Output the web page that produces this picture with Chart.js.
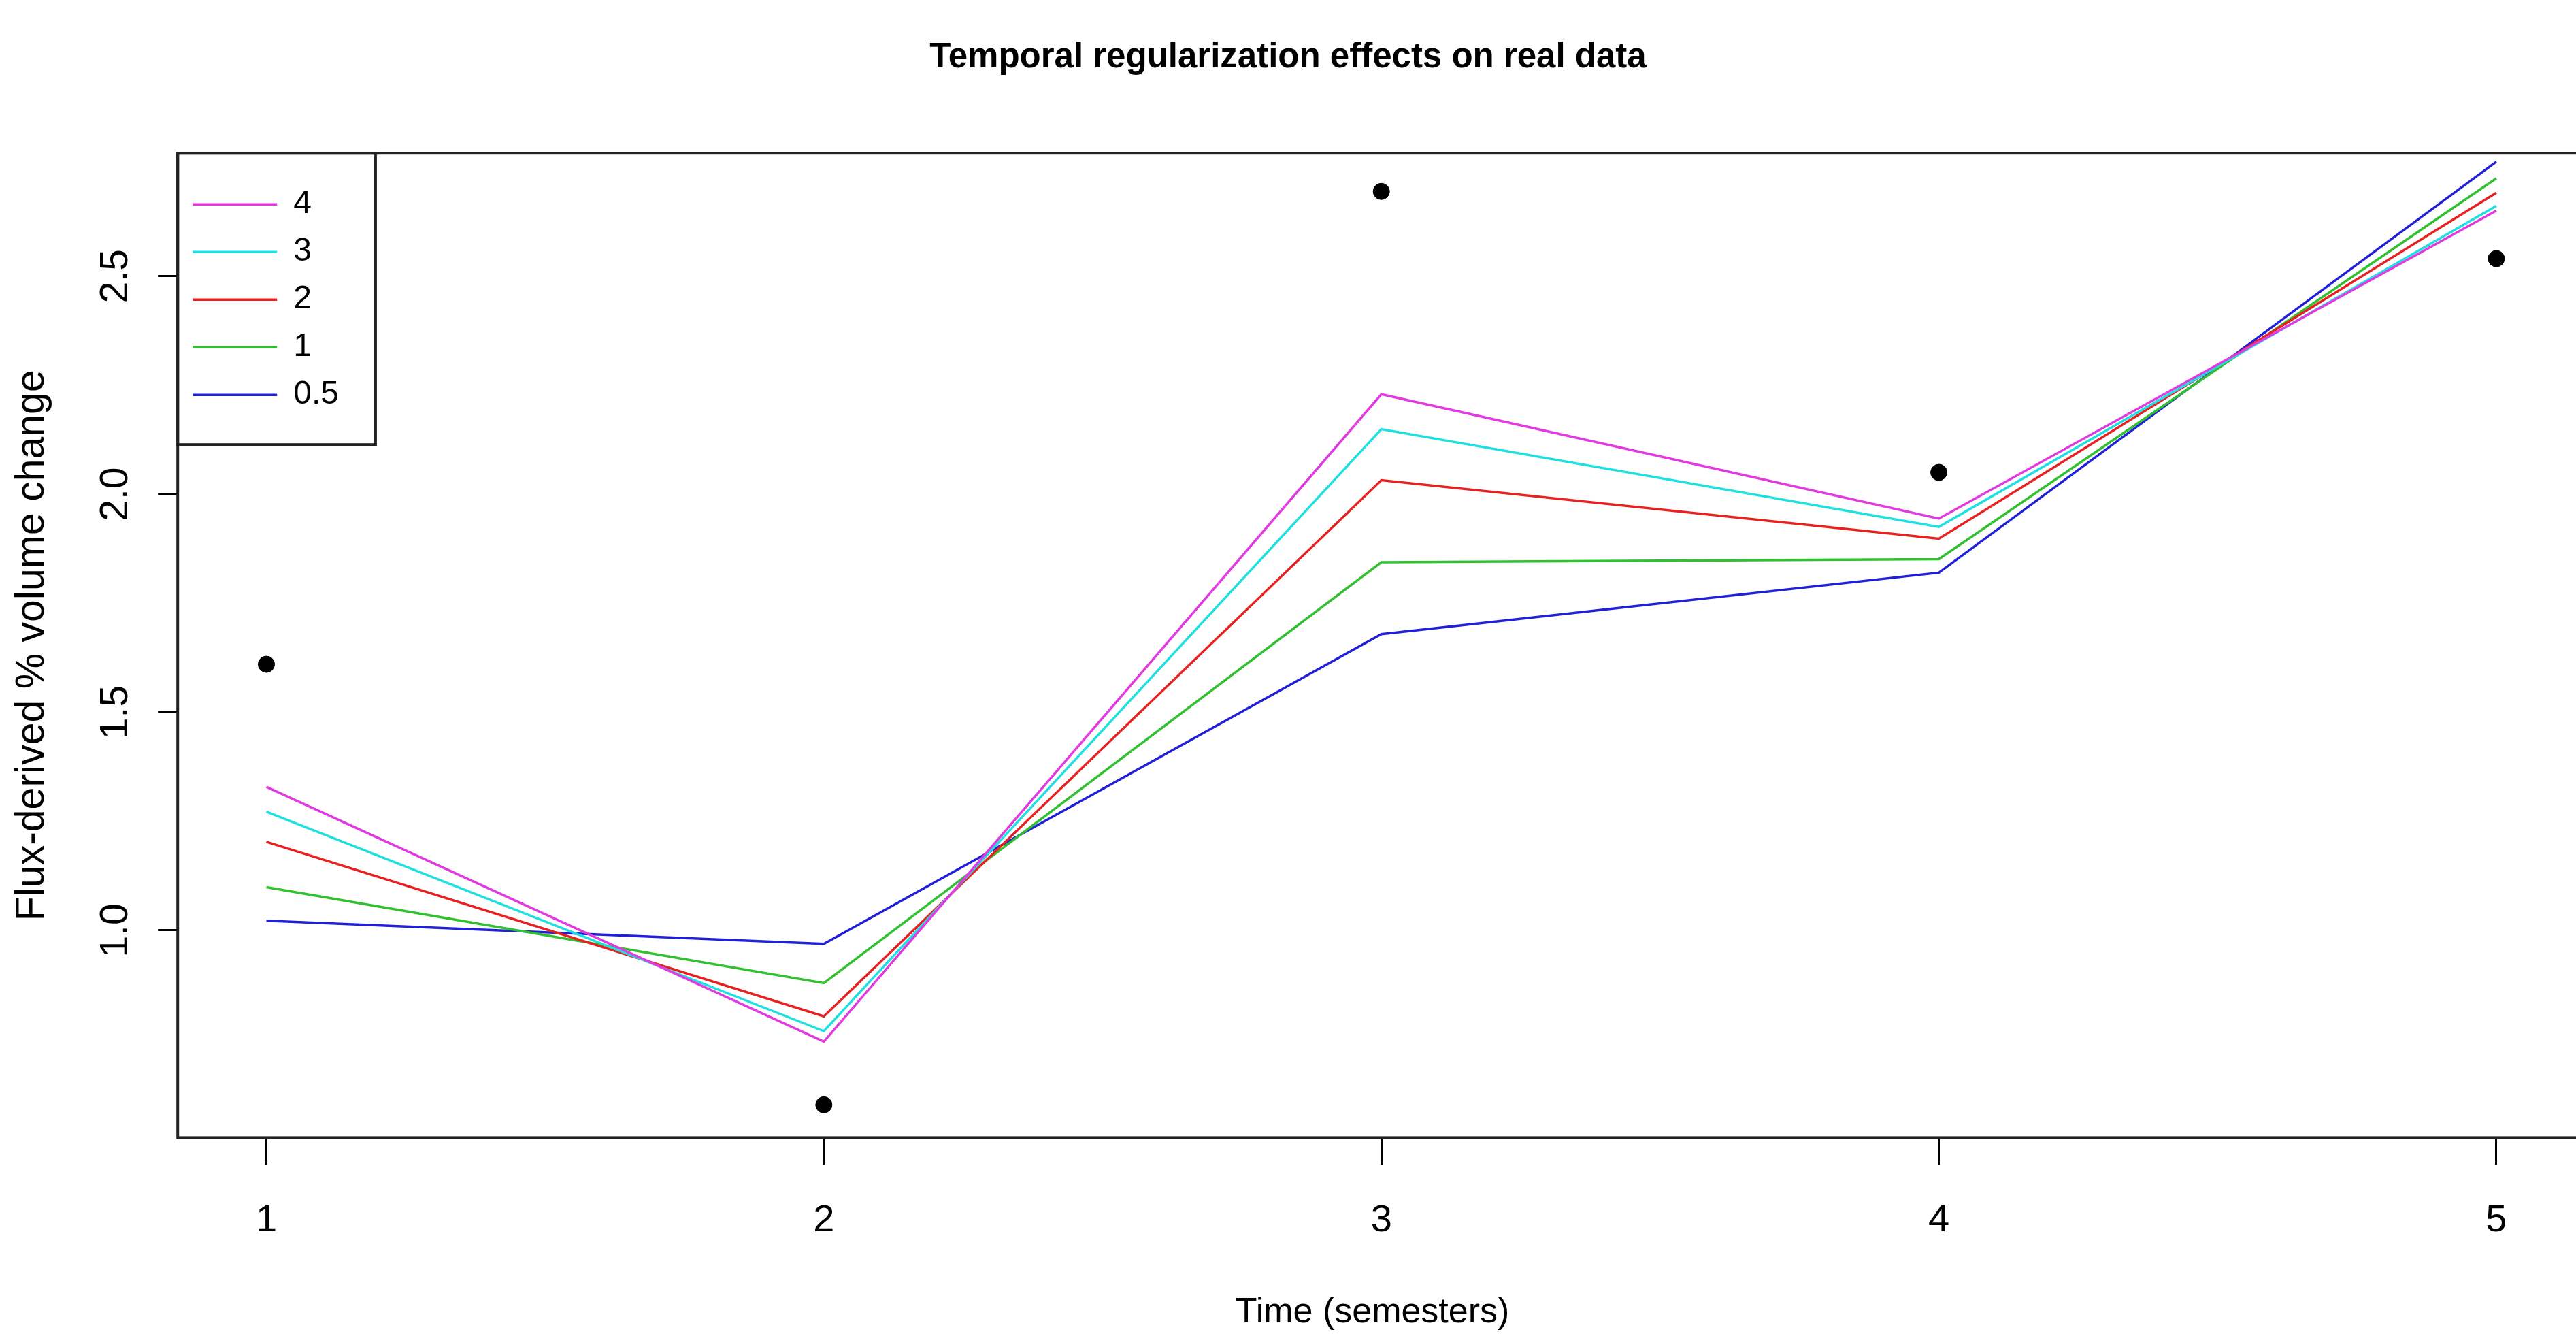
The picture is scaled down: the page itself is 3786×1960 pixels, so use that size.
<!DOCTYPE html>
<html>
<head>
<meta charset="UTF-8">
<title>Temporal regularization effects on real data</title>
<script src="https://cdn.jsdelivr.net/npm/chart.js@4.4.1/dist/chart.umd.min.js"></script>
<style>
html, body { margin: 0; padding: 0; background: #fff; overflow: hidden; }
#chart { display: block; }
</style>
</head>
<body>
<canvas id="chart" width="3786" height="1960"></canvas>
<script>
// semesters on the x axis
var semesters = [1, 2, 3, 4, 5];
// observed flux-derived values (black dots)
var observed = [1.610, 0.600, 2.694, 2.050, 2.540];
// fitted curves, one per regularization weight
var lambdaLabels = ['4', '3', '2', '1', '0.5'];
var fit4 = [1.329, 0.745, 2.229, 1.944, 2.650];
var fit3 = [1.272, 0.769, 2.149, 1.925, 2.661];
var fit2 = [1.203, 0.803, 2.032, 1.898, 2.691];
var fit1 = [1.099, 0.879, 1.844, 1.851, 2.724];
var fit05 = [1.022, 0.969, 1.679, 1.820, 2.762];
var lineColors = ['#e03ae0', '#1ee0e0', '#e82020', '#30c030', '#2020d8'];
var xTicks = [1, 2, 3, 4, 5];
var yTicks = [1.0, 1.5, 2.0, 2.5];

var fits = [fit4, fit3, fit2, fit1, fit05];

function toPoints(ys) {
	return semesters.map(function(x, i) { return {x: x, y: ys[i]}; });
}

var datasets = fits.map(function(ys, i) {
	return {
		type: 'line',
		label: lambdaLabels[i],
		data: toPoints(ys),
		borderColor: lineColors[i],
		backgroundColor: lineColors[i],
		borderWidth: 3.5,
		pointRadius: 0,
		tension: 0,
		fill: false
	};
});
datasets.push({
	type: 'scatter',
	label: 'observed',
	data: toPoints(observed),
	backgroundColor: '#000',
	borderColor: '#000',
	pointRadius: 12,
	pointHoverRadius: 12
});

// a legend placed on the chart area starts at the canvas top, move it down
var legendPlacer = {
	id: 'legendPlacer',
	afterLayout: function(chart) {
		var lg = chart.legend, a = chart.chartArea;
		var dy = a.top - lg.top;
		lg.top += dy;
		lg.bottom += dy;
		lg.legendHitBoxes.forEach(function(h) { h.top += dy; });
	}
};

// R style frame round the plot and the legend
var framePlugin = {
	id: 'frame',
	afterDraw: function(chart) {
		var ctx = chart.ctx, a = chart.chartArea;
		ctx.save();
		ctx.strokeStyle = '#222';
		ctx.lineWidth = 4;
		ctx.strokeRect(a.left, a.top, a.right - a.left + 20, a.bottom - a.top);
		var r = 0, b = 0;
		chart.legend.legendHitBoxes.forEach(function(h) {
			r = Math.max(r, h.left + h.width);
			b = Math.max(b, h.top + h.height);
		});
		ctx.strokeRect(a.left, a.top, r + 54 - a.left, b + 49 - a.top);
		ctx.restore();
	}
};

Chart.defaults.font.family = "'Liberation Sans', Arial, sans-serif";
Chart.defaults.color = '#000';

new Chart(document.getElementById('chart'), {
	data: {datasets: datasets},
	options: {
		responsive: false,
		animation: false,
		devicePixelRatio: 1,
		layout: {padding: 0},
		plugins: {
			title: {
				display: true,
				text: 'Temporal regularization effects on real data',
				font: {size: 51, weight: 'bold'},
				padding: {top: 54, bottom: 110}
			},
			legend: {
				position: 'chartArea',
				align: 'start',
				title: {display: true, text: '', font: {size: 10}, padding: {top: 17, bottom: 0}},
				labels: {
					font: {size: 48},
					usePointStyle: true,
					pointStyle: 'line',
					pointStyleWidth: 124,
					padding: 22,
					filter: function(item) { return item.datasetIndex < fits.length; }
				}
			},
			tooltip: {enabled: false}
		},
		scales: {
			x: {
				type: 'linear',
				min: 0.841,
				max: 5.127,
				afterBuildTicks: function(axis) {
					axis.ticks = xTicks.map(function(v) { return {value: v}; });
				},
				ticks: {font: {size: 56}, padding: 49, maxRotation: 0, autoSkip: false,
					callback: function(v) { return String(v); }},
				grid: {drawOnChartArea: false, drawTicks: true, tickLength: 40, tickWidth: 3, tickColor: '#000'},
				border: {display: false},
				title: {display: true, text: 'Time (semesters)', font: {size: 52}, padding: {top: 21, bottom: 0}}
			},
			y: {
				type: 'linear',
				min: 0.525,
				max: 2.7815,
				afterBuildTicks: function(axis) {
					axis.ticks = yTicks.map(function(v) { return {value: v}; });
				},
				ticks: {font: {size: 57}, padding: 21, minRotation: 90, maxRotation: 90,
					crossAlign: 'center', autoSkip: false,
					callback: function(v) { return v.toFixed(1); }},
				grid: {drawOnChartArea: false, drawTicks: true, tickLength: 29, tickWidth: 3, tickColor: '#000'},
				border: {display: false},
				title: {display: true, text: 'Flux-derived % volume change', font: {size: 59}, padding: {top: 12, bottom: 39}}
			}
		}
	},
	plugins: [legendPlacer, framePlugin]
});
</script>
</body>
</html>
